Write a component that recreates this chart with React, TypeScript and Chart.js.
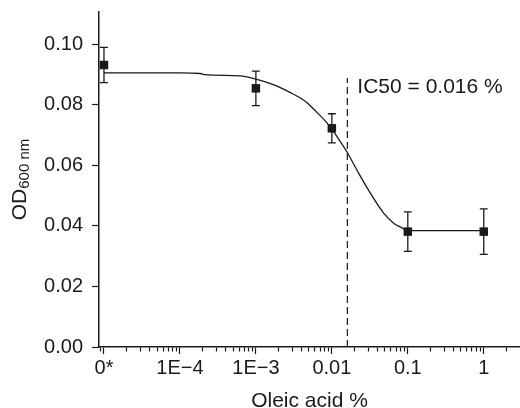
import { useEffect, useRef } from "react";
import { Chart, registerables } from "chart.js";

Chart.register(...registerables);

// Measured points (x = oleic acid %, 1e-5 plotted as "0*")
const CONC = [1e-5, 1e-3, 0.01, 0.1, 1];
const OD_MEAN = [0.0931, 0.0854, 0.0722, 0.0381, 0.0381];
const OD_ERR = [0.0058, 0.0057, 0.0048, 0.0065, 0.0075];

// Fitted curve
const FIT_X = [1e-5, 1e-4, 1.85e-4, 2.15e-4, 6.2e-4, 9.2e-4, 1.7e-3, 2.84e-3, 3.86e-3, 4.72e-3, 5.78e-3, 8.67e-3, 0.01175, 0.0159, 0.0226, 0.0323, 0.0484, 0.0656, 0.0803, 0.1, 1];
const FIT_Y = [0.0905, 0.0905, 0.0903, 0.0899, 0.0895, 0.0887, 0.0866, 0.0840, 0.0822, 0.0806, 0.0785, 0.0739, 0.0694, 0.0643, 0.0573, 0.0507, 0.0441, 0.0408, 0.0396, 0.0384, 0.0384];

const IC50 = 0.016;
const IC50_TOP = 0.0888;
const IC50_TEXT = "IC50 = 0.016 %";

const X_MAJOR = [1e-5, 1e-4, 1e-3, 0.01, 0.1, 1];
const X_LABELS = ["0*", "1E\u22124", "1E\u22123", "0.01", "0.1", "1"];
const X_MIN = 8.6e-6;
const X_MAX = 3;
const Y_TICKS = [0, 0.02, 0.04, 0.06, 0.08, 0.1];
const Y_MAX = 0.1106;

const X_TITLE = "Oleic acid %";
const Y_TITLE_MAIN = "OD";
const Y_TITLE_SUB = "600 nm";

const FONT = '"Liberation Sans", Arial, Helvetica, sans-serif';
const INK = "#1a1a1a";

function buildXTicks() {
  const vals: number[] = [9e-6];
  for (let e = -5; e <= -1; e++) {
    for (let m = 1; m <= 9; m++) vals.push(m * Math.pow(10, e));
  }
  vals.push(1, 2);
  return vals;
}
const isMajorX = (v: number) => X_MAJOR.some((m) => Math.abs(v - m) / m < 1e-6);

const overlay = {
  id: "overlay",
  afterDatasetsDraw(chart: any) {
    const { ctx, scales } = chart;
    const xs = scales.x;
    const ys = scales.y;
    ctx.save();
    ctx.strokeStyle = INK;
    ctx.lineWidth = 1.3;
    for (let i = 0; i < CONC.length; i++) {
      const x = xs.getPixelForValue(CONC[i]);
      const y1 = ys.getPixelForValue(OD_MEAN[i] + OD_ERR[i]);
      const y2 = ys.getPixelForValue(OD_MEAN[i] - OD_ERR[i]);
      ctx.beginPath();
      ctx.moveTo(x, y1);
      ctx.lineTo(x, y2);
      ctx.moveTo(x - 4, y1);
      ctx.lineTo(x + 4, y1);
      ctx.moveTo(x - 4, y2);
      ctx.lineTo(x + 4, y2);
      ctx.stroke();
    }
    ctx.restore();
  },
  afterDraw(chart: any) {
    const { ctx, scales, chartArea } = chart;
    const xs = scales.x;
    ctx.save();
    ctx.fillStyle = INK;
    // IC50 label
    ctx.font = `21px ${FONT}`;
    ctx.textAlign = "left";
    ctx.textBaseline = "alphabetic";
    ctx.fillText(IC50_TEXT, xs.getPixelForValue(IC50) + 10, chartArea.top + 81);
    // x title
    ctx.textAlign = "center";
    ctx.fillText(X_TITLE, (chartArea.left + chartArea.right) / 2, 407);
    // y title with subscript
    ctx.font = `21px ${FONT}`;
    const wMain = ctx.measureText(Y_TITLE_MAIN).width;
    ctx.font = `15px ${FONT}`;
    const wSub = ctx.measureText(Y_TITLE_SUB).width;
    const total = wMain + wSub;
    const cy = (chartArea.top + chartArea.bottom) / 2;
    ctx.translate(26, cy + total / 2);
    ctx.rotate(-Math.PI / 2);
    ctx.textAlign = "left";
    ctx.font = `21px ${FONT}`;
    ctx.fillText(Y_TITLE_MAIN, 0, 0);
    ctx.font = `15px ${FONT}`;
    ctx.fillText(Y_TITLE_SUB, wMain, 2.5);
    ctx.restore();
  },
};

export default function App() {
  const ref = useRef<HTMLCanvasElement | null>(null);
  useEffect(() => {
    if (!ref.current) return;
    const xTicks = buildXTicks();
    const chart = new Chart(ref.current, {
      type: "line",
      data: {
        datasets: [
          {
            label: "fit",
            data: FIT_X.map((x, i) => ({ x, y: FIT_Y[i] })),
            borderColor: INK,
            borderWidth: 1.3,
            pointRadius: 0,
            cubicInterpolationMode: "monotone",
            fill: false,
          },
          {
            label: "IC50",
            data: [
              { x: IC50, y: 0 },
              { x: IC50, y: IC50_TOP },
            ],
            borderColor: INK,
            borderWidth: 1.2,
            borderDash: [7, 4],
            pointRadius: 0,
            fill: false,
          },
          {
            label: "OD",
            data: CONC.map((x, i) => ({ x, y: OD_MEAN[i] })),
            showLine: false,
            pointStyle: "rect",
            pointRadius: 6,
            pointBorderWidth: 0,
            pointBackgroundColor: INK,
            backgroundColor: INK,
            borderColor: INK,
          },
        ],
      },
      options: {
        animation: false,
        responsive: false,
        layout: { autoPadding: false, padding: { top: 12, left: 0, right: 0, bottom: 0 } },
        plugins: { legend: { display: false }, tooltip: { enabled: false } },
        scales: {
          x: {
            type: "logarithmic",
            position: "bottom",
            min: X_MIN,
            max: X_MAX,
            afterBuildTicks: (scale: any) => {
              scale.ticks = xTicks.map((v) => ({ value: v, major: isMajorX(v) }));
            },
            afterFit: (scale: any) => {
              scale.height = 61;
              scale.paddingLeft = 0;
              scale.paddingRight = 0;
              scale.paddingTop = 0;
              scale.paddingBottom = 0;
            },
            border: { display: true, color: INK, width: 1.5 },
            grid: {
              display: true,
              drawOnChartArea: false,
              drawTicks: true,
              tickLength: 7,
              tickColor: INK,
              tickWidth: 1.2,
              tickBorderDash: (ctx: any) => (ctx.tick && isMajorX(ctx.tick.value) ? [] : [4, 100]),
            },
            ticks: {
              autoSkip: false,
              maxRotation: 0,
              minRotation: 0,
              padding: 2,
              color: INK,
              font: { family: FONT, size: 20 },
              callback: (value: any) => {
                const v = Number(value);
                const idx = X_MAJOR.findIndex((m) => Math.abs(v - m) / m < 1e-6);
                return idx >= 0 ? X_LABELS[idx] : "";
              },
            },
          },
          y: {
            type: "linear",
            min: 0,
            max: Y_MAX,
            afterBuildTicks: (scale: any) => {
              scale.ticks = Y_TICKS.map((v) => ({ value: v }));
            },
            afterFit: (scale: any) => {
              scale.width = 99;
              scale.paddingLeft = 0;
              scale.paddingRight = 0;
              scale.paddingTop = 0;
              scale.paddingBottom = 0;
            },
            border: { display: true, color: INK, width: 1.5 },
            grid: {
              display: true,
              drawOnChartArea: false,
              drawTicks: true,
              tickLength: 7,
              tickColor: INK,
              tickWidth: 1.2,
            },
            ticks: {
              padding: 9,
              color: INK,
              font: { family: FONT, size: 20 },
              includeBounds: false,
              callback: (value: any) => Number(value).toFixed(2),
            },
          },
        },
      },
      plugins: [overlay],
    } as any);
    return () => chart.destroy();
  }, []);
  return (
    <div style={{ position: "fixed", left: 0, top: 0, width: 520, height: 408, background: "#fff" }}>
      <canvas ref={ref} width={520} height={408} style={{ display: "block", width: 520, height: 408 }} />
    </div>
  );
}
